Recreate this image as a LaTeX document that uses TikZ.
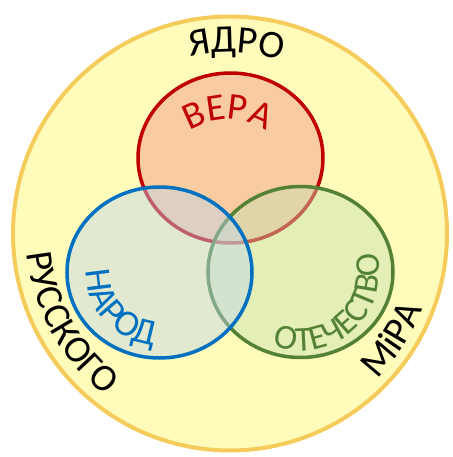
\documentclass[tikz,border=0pt]{standalone}
\usepackage{fontspec}
\setmainfont{Carlito}
\usepackage{tikz}
\usetikzlibrary{decorations.text}
\definecolor{coreyellow}{HTML}{FFFBBA}
\definecolor{coreedge}{HTML}{F5CB5C}
\definecolor{verared}{HTML}{C00000}
\definecolor{verafill}{HTML}{F8CBA0}
\definecolor{narodblue}{HTML}{0070C0}
\definecolor{narodfill}{HTML}{BDD7EE}
\definecolor{otechgreen}{HTML}{548235}
\definecolor{otechfill}{HTML}{C5E0B4}
\tikzset{ring/.style={line width=3.5pt},
         arctext/.style 2 args={decorate,decoration={text along path,text align=center,
           text color=#1,text={#2}}}}

\begin{document}
\begin{tikzpicture}[x=1pt,y=1pt]
\useasboundingbox (-230,-223.5) rectangle (222,233.5);
\coordinate (core) at (0,0);
\coordinate (vera) at (0.5,75.5);
\coordinate (verabase) at (-2,43);
\coordinate (narod) at (-70.5,-39);
\coordinate (otech) at (70.5,-38.5);
\draw[ring,line width=4pt,draw=coreedge,fill=coreyellow] (core) circle (217);
\draw[ring,draw=verared,fill=verafill] (vera) ellipse (92.5 and 85);
\foreach \c/\col/\fil in {otech/otechgreen/otechfill,narod/narodblue/narodfill}
  \draw[ring,draw=\col,fill=\fil,fill opacity=0.45] (\c) ellipse (92.5 and 85.5);
\path[arctext={black}{|\fontsize{39}{40}\selectfont|ЯДРО}]
  (core) ++(130:181) arc[start angle=130,end angle=46,radius=181];
\path[arctext={black}{|\fontsize{38}{40}\selectfont|РУССКОГО}]
  (core) ++(150:204) arc[start angle=150,end angle=268,radius=204];
\path[arctext={black}{|\fontsize{39}{40}\selectfont|МіРА}]
  (core) ++(-93:207) arc[start angle=-93,end angle=27,radius=207];
\path[arctext={verared}{|\fontsize{38}{40}\selectfont|ВЕРА}]
  (verabase) ++(150:71) arc[start angle=150,end angle=30,radius=71];
\path[arctext={narodblue}{|\fontsize{37}{40}\selectfont|НАРОД}]
  (narod) ++(162:73) arc[start angle=162,end angle=282,radius=73];
\path[arctext={otechgreen}{|\fontsize{35}{40}\selectfont|ОТЕЧЕСТВО}]
  (otech) ++(212:79) arc[start angle=212,end angle=412,radius=79];
\end{tikzpicture}
\end{document}
